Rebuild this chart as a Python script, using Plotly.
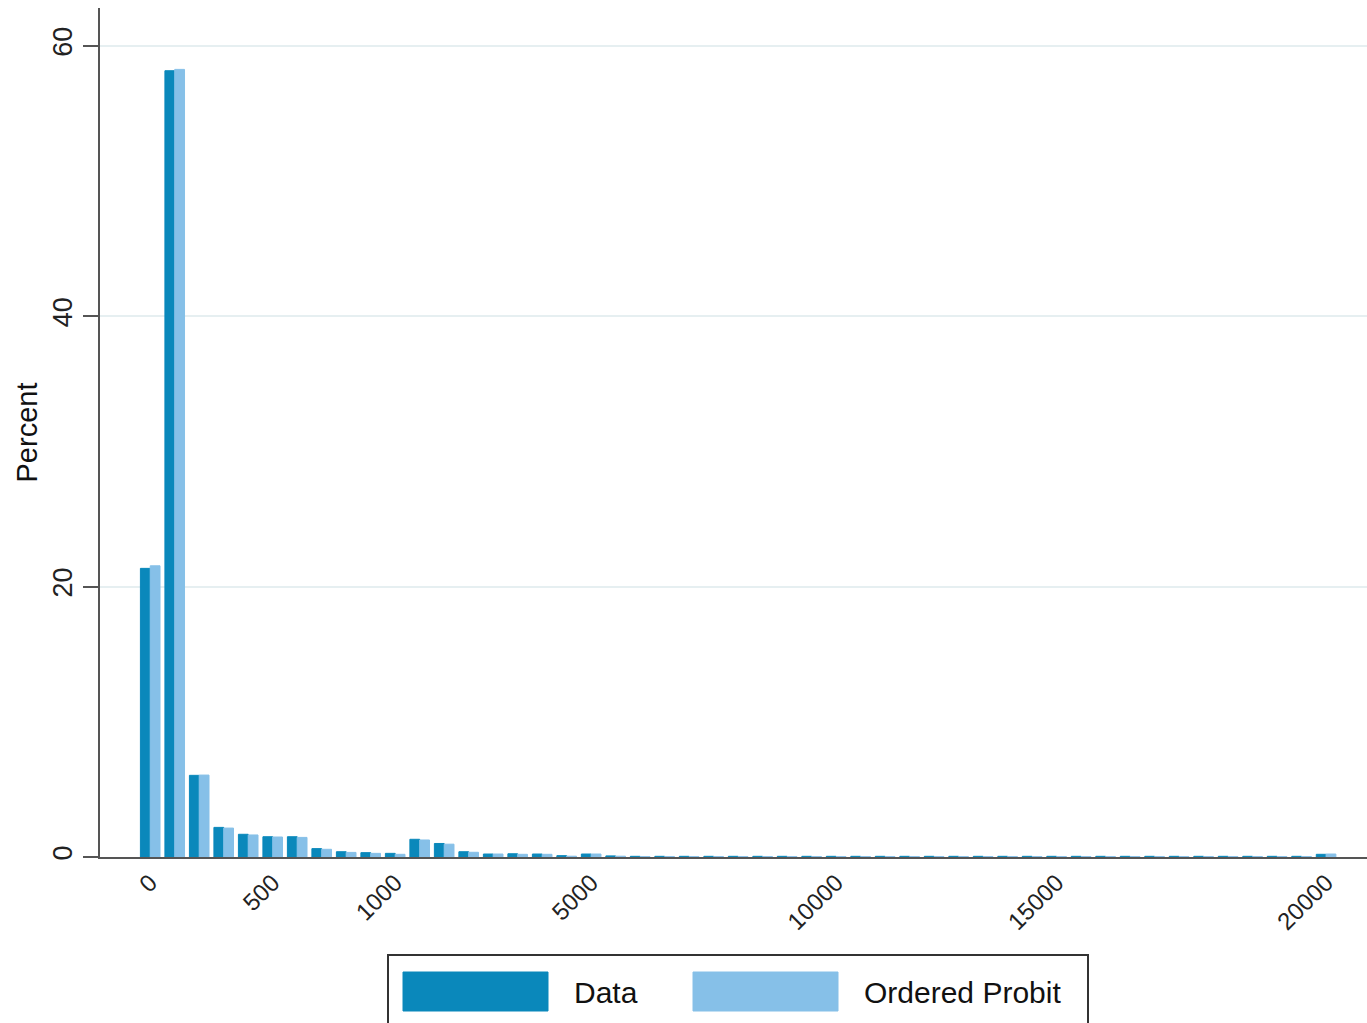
import plotly.graph_objects as go

# ---- data ----
bins = list(range(49))  # ordered categories (bin index)
tick_positions = [0, 5, 10, 18, 28, 37, 48]
tick_labels = ["0", "500", "1000", "5000", "10000", "15000", "20000"]

data_pct = [21.35, 58.16, 6.04, 2.19, 1.68, 1.50, 1.50, 0.62, 0.39, 0.32,
            0.27, 1.31, 1.00, 0.39, 0.22, 0.24, 0.22, 0.10, 0.22, 0.08,
            0.05, 0.05, 0.05, 0.05, 0.05, 0.05, 0.05, 0.05, 0.05, 0.05,
            0.05, 0.05, 0.05, 0.05, 0.05, 0.05, 0.05, 0.05, 0.05, 0.05,
            0.05, 0.05, 0.05, 0.05, 0.05, 0.05, 0.05, 0.05, 0.20]
probit_pct = [21.54, 58.26, 6.06, 2.14, 1.63, 1.48, 1.45, 0.57, 0.34, 0.27,
              0.20, 1.26, 0.95, 0.35, 0.22, 0.20, 0.20, 0.06, 0.22, 0.06,
              0.03, 0.03, 0.03, 0.03, 0.03, 0.03, 0.03, 0.03, 0.03, 0.03,
              0.03, 0.03, 0.03, 0.03, 0.03, 0.03, 0.03, 0.03, 0.03, 0.03,
              0.03, 0.03, 0.03, 0.03, 0.03, 0.03, 0.03, 0.03, 0.22]

series_names = ["Data", "Ordered Probit"]
colors = ["#0a88bb", "#86c0e8"]

FONT = "Liberation Sans, Arial, sans-serif"
W, H = 1367, 1023
ML, MR, MT, MB = 100, 0, 8, 166

fig = go.Figure()
for name, vals, c in zip(series_names, [data_pct, probit_pct], colors):
    fig.add_trace(go.Bar(x=bins, y=vals, name=name,
                         marker=dict(color=c, line=dict(color=c, width=1)),
                         showlegend=False))

fig.update_layout(
    width=W, height=H,
    margin=dict(l=ML, r=MR, t=MT, b=MB),
    paper_bgcolor="white", plot_bgcolor="white",
    barmode="group", bargap=0.2, bargroupgap=0,
    font=dict(family=FONT, color="#222"),
)

fig.update_xaxes(
    range=[-2.05, 49.67],
    tickmode="array", tickvals=tick_positions, ticktext=tick_labels,
    tickangle=-45, tickfont=dict(size=24, family=FONT, color="#222"),
    ticks="", showgrid=False, zeroline=False,
    showline=True, linecolor="#555", linewidth=2,
    layer="below traces",
)
fig.update_yaxes(
    range=[0, 62.8],
    tickmode="array", tickvals=[0, 20, 40, 60],
    tickangle=-90, tickfont=dict(size=27, family=FONT, color="#222"),
    ticks="outside", ticklen=15, tickwidth=2, tickcolor="#555",
    showgrid=True, gridcolor="#e6eff1", gridwidth=2,
    zeroline=False,
    showline=True, linecolor="#555", linewidth=2,
    title=dict(text="Percent", font=dict(size=29, family=FONT, color="#111"), standoff=2),
)

# ---- custom legend (Stata style) below the plot ----
pw = W - ML - MR
ph = H - MT - MB
def px(x):
    return (x - ML) / pw
def py(y):
    return (H - MB - y) / ph

fig.add_shape(type="rect", xref="paper", yref="paper",
              x0=px(388), x1=px(1088), y0=py(1040), y1=py(955),
              line=dict(color="#333", width=2), fillcolor="white")
swatches = [(403, 548, 572), (693, 838, 862)]
for (sx0, sx1, tx), name, c in zip(swatches, series_names, colors):
    fig.add_shape(type="rect", xref="paper", yref="paper",
                  x0=px(sx0), x1=px(sx1), y0=py(1011), y1=py(972),
                  line=dict(color=c, width=1), fillcolor=c)
    fig.add_annotation(xref="paper", yref="paper", x=px(tx), y=py(992),
                       text=name, showarrow=False, xanchor="left", yanchor="middle",
                       font=dict(size=30, family=FONT, color="#111"))

fig.write_html("out.html")
